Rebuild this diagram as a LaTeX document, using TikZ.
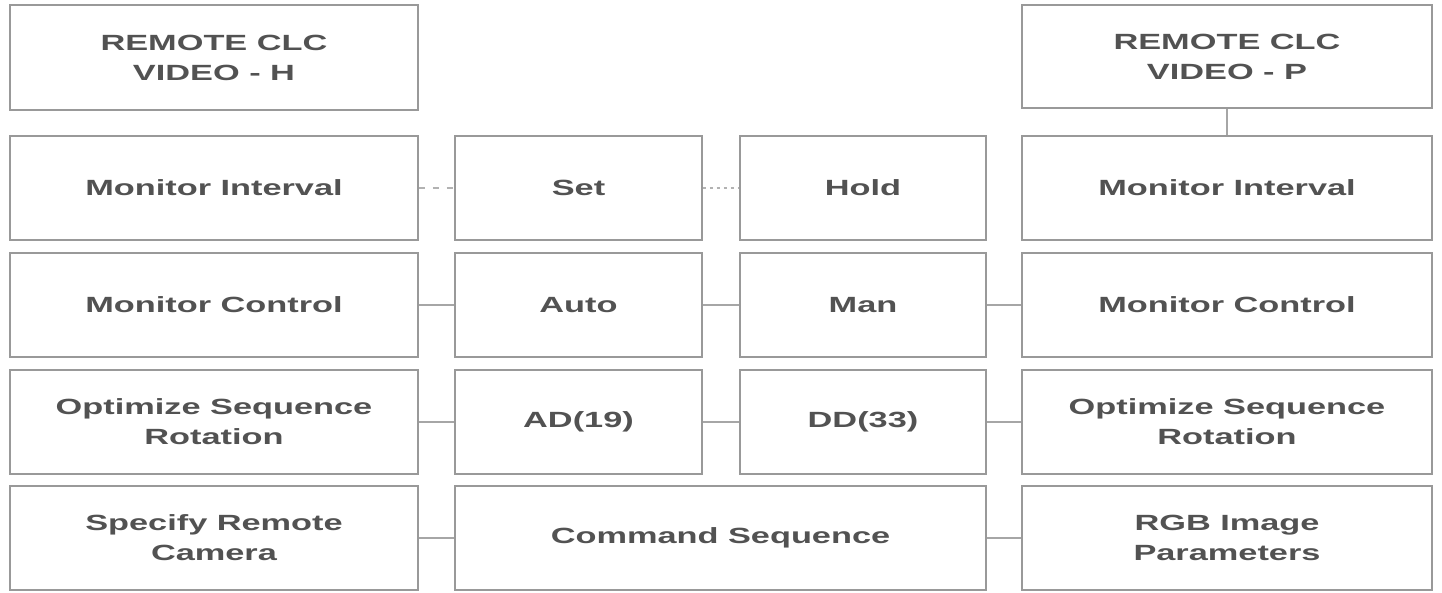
\documentclass[tikz,border=0pt]{standalone}
\usepackage{fontspec}
\setmainfont[FakeStretch=1.56]{Liberation Sans}
\begin{document}
\begin{tikzpicture}[x=1pt,y=1pt,
  box/.style={draw=black!40, line width=1.8pt, fill=white, inner sep=0pt,
    minimum height=104pt, align=center, text=black!68,
    font=\fontsize{22}{30}\selectfont\bfseries},
  c1/.style={box, minimum width=408pt},
  c2/.style={box, minimum width=247pt},
  c3/.style={box, minimum width=246pt},
  c4/.style={box, minimum width=410pt},
  c23/.style={box, minimum width=531pt},
  link/.style={draw=black!35, line width=1.4pt},
  faintlink/.style={draw=black!30, line width=1.2pt, dashed, dash pattern=on 6pt off 8pt}]
\useasboundingbox[fill=white] (0,0) rectangle (1442,-592);
% top row
\node[c1, minimum height=105pt] (rh) at (214,-57.5) {REMOTE CLC\\VIDEO - H};
\node[c4, minimum height=103pt] (rp) at (1227,-56.5) {REMOTE CLC\\VIDEO - P};
% row 1
\node[c1] (mi1) at (214,-188) {Monitor Interval};
\node[c2] (set) at (578.5,-188) {Set};
\node[c3] (hold) at (863,-188) {Hold};
\node[c4] (mi2) at (1227,-188) {Monitor Interval};
% row 2
\node[c1] (mc1) at (214,-305) {Monitor Control};
\node[c2] (auto) at (578.5,-305) {Auto};
\node[c3] (man) at (863,-305) {Man};
\node[c4] (mc2) at (1227,-305) {Monitor Control};
% row 3
\node[c1] (os1) at (214,-422) {Optimize Sequence\\Rotation};
\node[c2] (ad) at (578.5,-422) {AD(19)};
\node[c3] (dd) at (863,-422) {DD(33)};
\node[c4] (os2) at (1227,-422) {Optimize Sequence\\Rotation};
% row 4
\node[c1] (src) at (214,-538) {Specify Remote\\Camera};
\node[c23] (cs) at (720.5,-538) {Command Sequence};
\node[c4] (rgb) at (1227,-538) {RGB Image\\Parameters};
% connectors
\draw[link] (rp) -- (mi2);
\draw[faintlink] (mi1) -- (set);
\draw[faintlink, dash pattern=on 3pt off 4pt] (set) -- (hold);
\draw[link] (mc1) -- (auto);
\draw[link] (auto) -- (man);
\draw[link] (man) -- (mc2);
\draw[link] (os1) -- (ad);
\draw[link] (ad) -- (dd);
\draw[link] (dd) -- (os2);
\draw[link] (src) -- (cs);
\draw[link] (cs) -- (rgb);
\end{tikzpicture}
\end{document}
